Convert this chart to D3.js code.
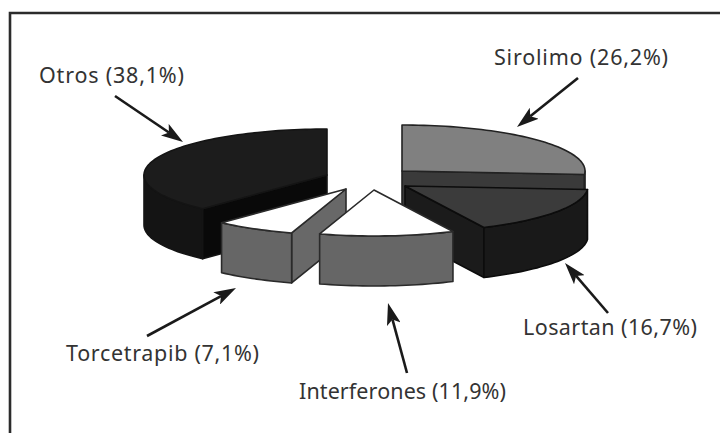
<!DOCTYPE html>
<html>
<head>
<meta charset="utf-8">
<script src="https://cdn.jsdelivr.net/npm/d3@7"></script>
<style>
  html, body { margin: 0; padding: 0; background: #fff; }
  svg { display: block; }
  text { font-family: "Noto Sans", sans-serif; font-size: 21.5px; fill: #333333; }
</style>
</head>
<body>
<svg id="chart" width="720" height="433"></svg>
<script>
// Share of each drug, clockwise from twelve o'clock
const names = ["Sirolimo", "Losartan", "Interferones", "Torcetrapib", "Otros"];
const shares = [26.2, 16.7, 11.9, 7.1, 38.1];
const shareLabels = ["26,2%", "16,7%", "11,9%", "7,1%", "38,1%"];

// Shading of each wedge
const topFill  = ["#808080", "#3b3b3b", "#ffffff", "#ffffff", "#1c1c1c"];
const wallFill = ["#3a3a3a", "#191919", "#666666", "#666666", "#141414"];
const sideFill = ["#3a3a3a", "#1b1b1b", "#666666", "#686868", "#090909"];
const lineFill = ["#222222", "#0c0c0c", "#2a2a2a", "#2a2a2a", "#141414"];

// Where each exploded wedge sits on the page (its apex)
const apexX = [402, 405, 374, 346, 327];
const apexY = [171, 186, 190, 189, 175];

// Text and leader arrows
const labelX = [494, 523, 299, 66, 39];
const labelY = [65, 335, 399, 361, 83];
const labelWidth = [174, 174, 207, 193, 145];
const arrowFrom = [[578, 78], [608, 313], [407, 373], [147, 336], [115, 96]];
const arrowTo   = [[517, 127], [565, 263], [388, 303], [236, 288], [183, 142]];

const radiusX = 183, radiusY = 46, depth = 50;
const headLength = 22;

const svg = d3.select("#chart");

// Rule along the top and down the left side of the figure
svg.append("path")
  .attr("d", "M10,433V13H720")
  .attr("fill", "none")
  .attr("stroke", "#2b2b2b")
  .attr("stroke-width", 2.6);

const defs = svg.append("defs");
defs.append("marker")
  .attr("id", "barb")
  .attr("viewBox", "0 0 22 14")
  .attr("refX", 5).attr("refY", 7)
  .attr("markerUnits", "userSpaceOnUse")
  .attr("markerWidth", 22).attr("markerHeight", 14)
  .attr("orient", "auto")
  .append("path")
  .attr("d", "M0,0L22,7L0,14L5,7Z")
  .attr("fill", "#1a1a1a");

// The pie layout gives the angles; keep the input order
const arcs = d3.pie().sort(null).value(d => d)(shares);

// Tilted-disc projection: the scales map the unit circle onto the flattened ellipse
const scaleX = d3.scaleLinear().domain([-1, 1]).range([-radiusX, radiusX]);
const scaleY = d3.scaleLinear().domain([-1, 1]).range([radiusY, -radiusY]);
const px = (i, a) => apexX[i] + scaleX(Math.sin(a));
const py = (i, a) => apexY[i] + scaleY(Math.cos(a));

const lineGen = d3.line().curve(d3.curveLinear);
const rimAngles = (a0, a1) => {
  const steps = Math.max(2, Math.ceil((a1 - a0) / 0.03));
  return d3.range(steps + 1).map(k => a0 + (a1 - a0) * k / steps);
};

// Back wedges first, so the nearer ones overlap them
const paintOrder = [4, 0, 1, 3, 2];
const shapeStyle = (sel, fill, i) => sel
  .attr("fill", fill)
  .attr("stroke", lineFill[i])
  .attr("stroke-width", 1.6)
  .attr("stroke-linejoin", "round");

paintOrder.forEach(i => {
  const { startAngle: a0, endAngle: a1 } = arcs[i];
  const g = svg.append("g").attr("class", "wedge").attr("data-name", names[i]);
  const ax = apexX[i], ay = apexY[i];
  const midX = px(i, (a0 + a1) / 2), midY = py(i, (a0 + a1) / 2);

  // A cut face shows only if it looks towards the viewer (its outward normal points down the page)
  [a0, a1].forEach(a => {
    const ex = px(i, a) - ax, ey = py(i, a) - ay;
    let nx = -ey, ny = ex;
    if (nx * (midX - ax) + ny * (midY - ay) > 0) { nx = -nx; ny = -ny; }
    if (ny <= 0.001) return;
    const ring = [[ax, ay], [px(i, a), py(i, a)], [px(i, a), py(i, a) + depth], [ax, ay + depth]];
    g.append("path").attr("d", lineGen(ring) + "Z").call(shapeStyle, sideFill[i], i);
  });

  // Curved outer wall, front half of the rim only
  const w0 = Math.max(a0, Math.PI / 2), w1 = Math.min(a1, 3 * Math.PI / 2);
  if (w1 > w0) {
    const rim = rimAngles(w0, w1);
    const upper = rim.map(a => [px(i, a), py(i, a)]);
    const lower = rim.slice().reverse().map(a => [px(i, a), py(i, a) + depth]);
    g.append("path").attr("d", lineGen(upper.concat(lower)) + "Z").call(shapeStyle, wallFill[i], i);
  }

  // Top face
  const outline = [[ax, ay]].concat(rimAngles(a0, a1).map(a => [px(i, a), py(i, a)]));
  g.append("path").attr("d", lineGen(outline) + "Z").call(shapeStyle, topFill[i], i);
});

// Leader arrows: the shaft stops at the notch of the barb so the point stays sharp
names.forEach((n, i) => {
  const [x1, y1] = arrowFrom[i], [x2, y2] = arrowTo[i];
  const len = Math.hypot(x2 - x1, y2 - y1);
  const t = (len - (headLength - 5)) / len;
  svg.append("line")
    .attr("x1", x1).attr("y1", y1)
    .attr("x2", x1 + (x2 - x1) * t).attr("y2", y1 + (y2 - y1) * t)
    .attr("stroke", "#1a1a1a")
    .attr("stroke-width", 2.6)
    .attr("marker-end", "url(#barb)");
});

// Labels, each fitted to its measured run of text
names.forEach((n, i) => {
  svg.append("text")
    .attr("x", labelX[i]).attr("y", labelY[i])
    .attr("textLength", labelWidth[i])
    .attr("lengthAdjust", "spacing")
    .text(`${n} (${shareLabels[i]})`);
});
</script>
</body>
</html>
